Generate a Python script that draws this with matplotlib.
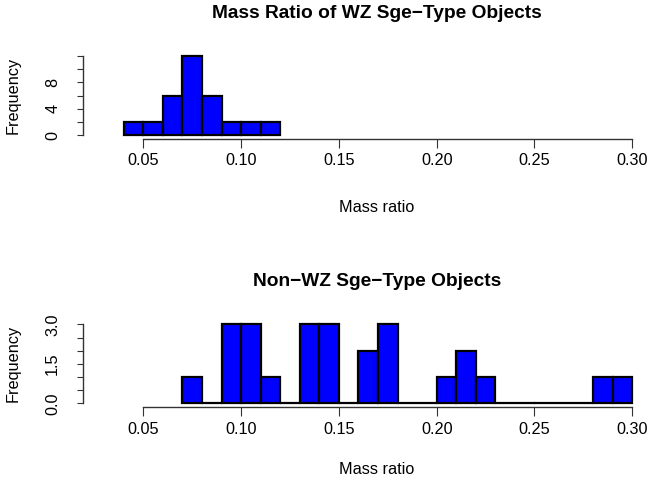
import matplotlib
matplotlib.use("Agg")
import matplotlib.pyplot as plt

plt.rcParams['font.family'] = ['Liberation Sans', 'DejaVu Sans']

# Data
wz_bin_edges = [0.04, 0.05, 0.06, 0.07, 0.08, 0.09, 0.10, 0.11, 0.12]
wz_counts = [2, 2, 6, 12, 6, 2, 2, 2]

nonwz_bin_edges = [0.07, 0.08, 0.09, 0.10, 0.11, 0.12, 0.13, 0.14, 0.15, 0.16,
                   0.17, 0.18, 0.19, 0.20, 0.21, 0.22, 0.23, 0.24, 0.25, 0.26,
                   0.27, 0.28, 0.29, 0.30]
nonwz_counts = [1, 0, 3, 3, 1, 0, 3, 3, 0, 2, 3, 0, 0, 1, 2, 1, 0, 0, 0, 0, 0, 1, 1]

x_ticks = [0.05, 0.10, 0.15, 0.20, 0.25, 0.30]
x_tick_labels = ["0.05", "0.10", "0.15", "0.20", "0.25", "0.30"]
wz_y_ticks = [0, 2, 4, 6, 8, 10, 12]
wz_y_labels = ["0", "", "4", "", "8", "", ""]
nonwz_y_ticks = [0.0, 0.5, 1.0, 1.5, 2.0, 2.5, 3.0]
nonwz_y_labels = ["0.0", "", "", "1.5", "", "", "3.0"]

titles = ["Mass Ratio of WZ Sge\u2212Type Objects", "Non\u2212WZ Sge\u2212Type Objects"]

W, H = 649, 487
fig = plt.figure(figsize=(W / 100, H / 100), dpi=100)

# pixel geometry
left_px = 82.7
right_px = 671.0
x005_px, x030_px = 143.3, 632.3
px_per_unit = (x030_px - x005_px) / 0.25
xlim = (0.05 - (x005_px - left_px) / px_per_unit, 0.30 + (right_px - x030_px) / px_per_unit)

FS = 11.7
axis_color = '#333333'


def make_panel(bottom_px, top_px, edges, counts, yticks, ylabels, ymax, title, title_y, xlabel_y):
    ax = fig.add_axes([left_px / W, 1 - bottom_px / H, (right_px - left_px) / W, (bottom_px - top_px) / H])
    widths = [edges[i + 1] - edges[i] for i in range(len(counts))]
    ax.bar(edges[:-1], counts, width=widths, align='edge', color='#0000FF',
           edgecolor='black', linewidth=1.6)
    ax.set_xlim(*xlim)
    ax.set_ylim(-0.05 * ymax, 1.05 * ymax)
    for s in ['top', 'right']:
        ax.spines[s].set_visible(False)
    ax.spines['left'].set_bounds(yticks[0], yticks[-1])
    ax.spines['bottom'].set_bounds(x_ticks[0], x_ticks[-1])
    for s in ['left', 'bottom']:
        ax.spines[s].set_color(axis_color)
        ax.spines[s].set_linewidth(1.0)
    ax.set_xticks(x_ticks)
    ax.set_xticklabels(x_tick_labels, fontsize=FS)
    ax.set_yticks(yticks)
    ax.set_yticklabels(ylabels, fontsize=FS, rotation=90)
    ax.tick_params(axis='x', length=6.7, width=0.8, color=axis_color, pad=9)
    ax.tick_params(axis='y', length=4.1, width=0.8, color=axis_color, pad=17.5)
    for lbl in ax.get_yticklabels():
        lbl.set_horizontalalignment('center')
        lbl.set_verticalalignment('center')
    for lbl in ax.get_xticklabels():
        lbl.set_verticalalignment('center')
    ax.set_facecolor('none')
    cx = (left_px + right_px) / 2 / W
    fig.text(cx, 1 - title_y / H, title, ha='center', va='center',
             fontsize=13.8, fontweight='bold')
    fig.text(cx, 1 - xlabel_y / H, "Mass ratio", ha='center', va='center', fontsize=FS)
    fig.text(13 / W, 1 - (bottom_px + top_px) / 2 / H, "Frequency", rotation=90,
             ha='center', va='center', fontsize=FS)
    return ax


make_panel(139.0, 52.1, wz_bin_edges, wz_counts, wz_y_ticks, wz_y_labels, 12,
           titles[0], 14, 208)
make_panel(407.3, 320.4, nonwz_bin_edges, nonwz_counts, nonwz_y_ticks, nonwz_y_labels, 3,
           titles[1], 281, 470)

fig.savefig("out.png", dpi=100)
